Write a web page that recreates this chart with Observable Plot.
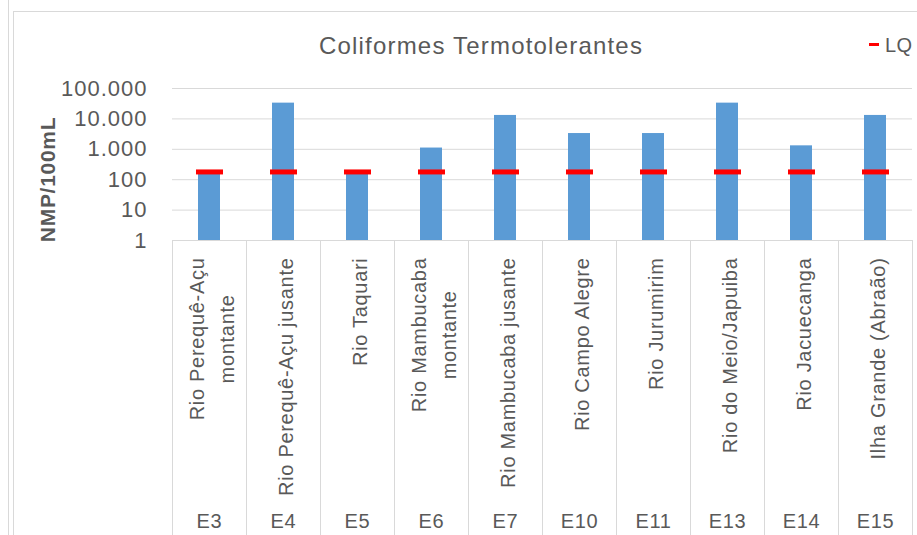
<!DOCTYPE html>
<html>
<head>
<meta charset="utf-8">
<script src="https://cdn.jsdelivr.net/npm/d3@7"></script>
<script src="https://cdn.jsdelivr.net/npm/@observablehq/plot@0.6"></script>
<style>
  html, body { margin: 0; padding: 0; background: #fff; }
  #wrap { position: relative; width: 917px; height: 535px; overflow: hidden; font-family: "Liberation Sans", Arial, sans-serif; color: #595959; }
  .ln { position: absolute; background: #d9d9d9; }
  #title { position: absolute; left: 0; width: 962px; top: 32px; text-align: center; font-size: 24px; line-height: 28px; letter-spacing: 1.2px; }
  #legend { position: absolute; left: 869px; top: 33px; font-size: 20px; line-height: 24px; white-space: nowrap; letter-spacing: 0.5px; }
  #legend .sw { display: inline-block; width: 10px; height: 3px; background: #ff0000; vertical-align: middle; margin-right: 6px; position: relative; top: -2px; }
  #chart { position: absolute; left: 0; top: 0; }
  .cc text { letter-spacing: 0.7px; }
  .cc g[aria-label="y-axis tick label"] text { letter-spacing: 1px; }
</style>
</head>
<body>
<div id="wrap">
  <div class="ln" style="left:8px;top:0;width:1px;height:535px;"></div>
  <div class="ln" style="left:13px;top:11px;width:1px;height:524px;"></div>
  <div class="ln" style="left:13px;top:11px;width:904px;height:1px;"></div>
  <div id="chart"></div>
  <div id="title">Coliformes Termotolerantes</div>
  <div id="legend"><span class="sw"></span>LQ</div>
</div>
<script>
// ---- data ----
const codes = ["E3", "E4", "E5", "E6", "E7", "E10", "E11", "E13", "E14", "E15"];
const names = [
  "Rio Perequê-Açu\nmontante",
  "Rio Perequê-Açu jusante",
  "Rio Taquari",
  "Rio Mambucaba\nmontante",
  "Rio Mambucaba jusante",
  "Rio Campo Alegre",
  "Rio Jurumirim",
  "Rio do Meio/Japuiba",
  "Rio Jacuecanga",
  "Ilha Grande (Abraão)"
];
const values = [180, 33000, 180, 1100, 13000, 3300, 3300, 33000, 1300, 13000];
const lqValues = [180, 180, 180, 180, 180, 180, 180, 180, 180, 180];
const yTickValues = [1, 10, 100, 1000, 10000, 100000];
const yTickLabels = ["1", "10", "100", "1.000", "10.000", "100.000"];
const yLabel = "NMP/100mL";

const data = codes.map((c, i) => ({code: c, name: names[i], value: values[i], lq: lqValues[i]}));

const W = 917, H = 535, mL = 172, mR = 5, mT = 88, mB = 295;
const half = (W - mL - mR) / names.length / 2;
const grid = "#d9d9d9";
const txt = "#595959";

const chart = Plot.plot({
  width: W,
  height: H,
  marginLeft: mL,
  marginRight: mR,
  marginTop: mT,
  marginBottom: mB,
  className: "cc",
  style: {fontFamily: "'Liberation Sans', Arial, sans-serif", fontSize: "20px", color: txt, background: "transparent"},
  x: {type: "band", domain: names, padding: 0, axis: null},
  y: {type: "log", domain: [1, 100000]},
  marks: [
    Plot.ruleY(yTickValues, {stroke: grid, strokeWidth: 1}),
    Plot.ruleX(names, {x: d => d, dx: -half, stroke: grid, insetTop: H - mT - mB, insetBottom: -mB}),
    Plot.ruleX([names[names.length - 1]], {x: d => d, dx: half, stroke: grid, insetTop: H - mT - mB, insetBottom: -mB}),
    Plot.barY(data, {x: "name", y1: 1, y2: "value", fill: "#5B9BD5", insetLeft: 26, insetRight: 26}),
    Plot.tickY(data, {x: "name", y: "lq", stroke: "#ff0000", strokeWidth: 5, insetLeft: 24, insetRight: 23}),
    Plot.axisY({
      ticks: yTickValues,
      tickFormat: (d) => yTickLabels[yTickValues.indexOf(d)],
      tickSize: 0,
      tickPadding: 25,
      fontSize: 22,
      label: null,
      fill: txt
    }),
    Plot.text([yLabel], {frameAnchor: "left", dx: -124, dy: 15, rotate: -90, textAnchor: "middle", fontSize: 21, fontWeight: "bold", fill: txt}),
    Plot.text(data, {x: "name", text: "name", frameAnchor: "bottom", dy: 17, rotate: -90, textAnchor: "end", lineAnchor: "middle", lineHeight: 1.5, fontSize: 20, fill: txt}),
    Plot.text(data, {x: "name", text: "code", frameAnchor: "bottom", dy: 287, fontSize: 20, fill: txt})
  ]
});

document.getElementById("chart").appendChild(chart);

// center shorter lines of multi-line category labels relative to the longest line
d3.select(chart).selectAll("text").each(function() {
  const tspans = Array.from(this.querySelectorAll("tspan"));
  if (tspans.length < 2) return;
  const lens = tspans.map(t => t.getComputedTextLength());
  const mx = Math.max(...lens);
  tspans.forEach((t, i) => t.setAttribute("dx", -(mx - lens[i]) / 2));
});
</script>
</body>
</html>
